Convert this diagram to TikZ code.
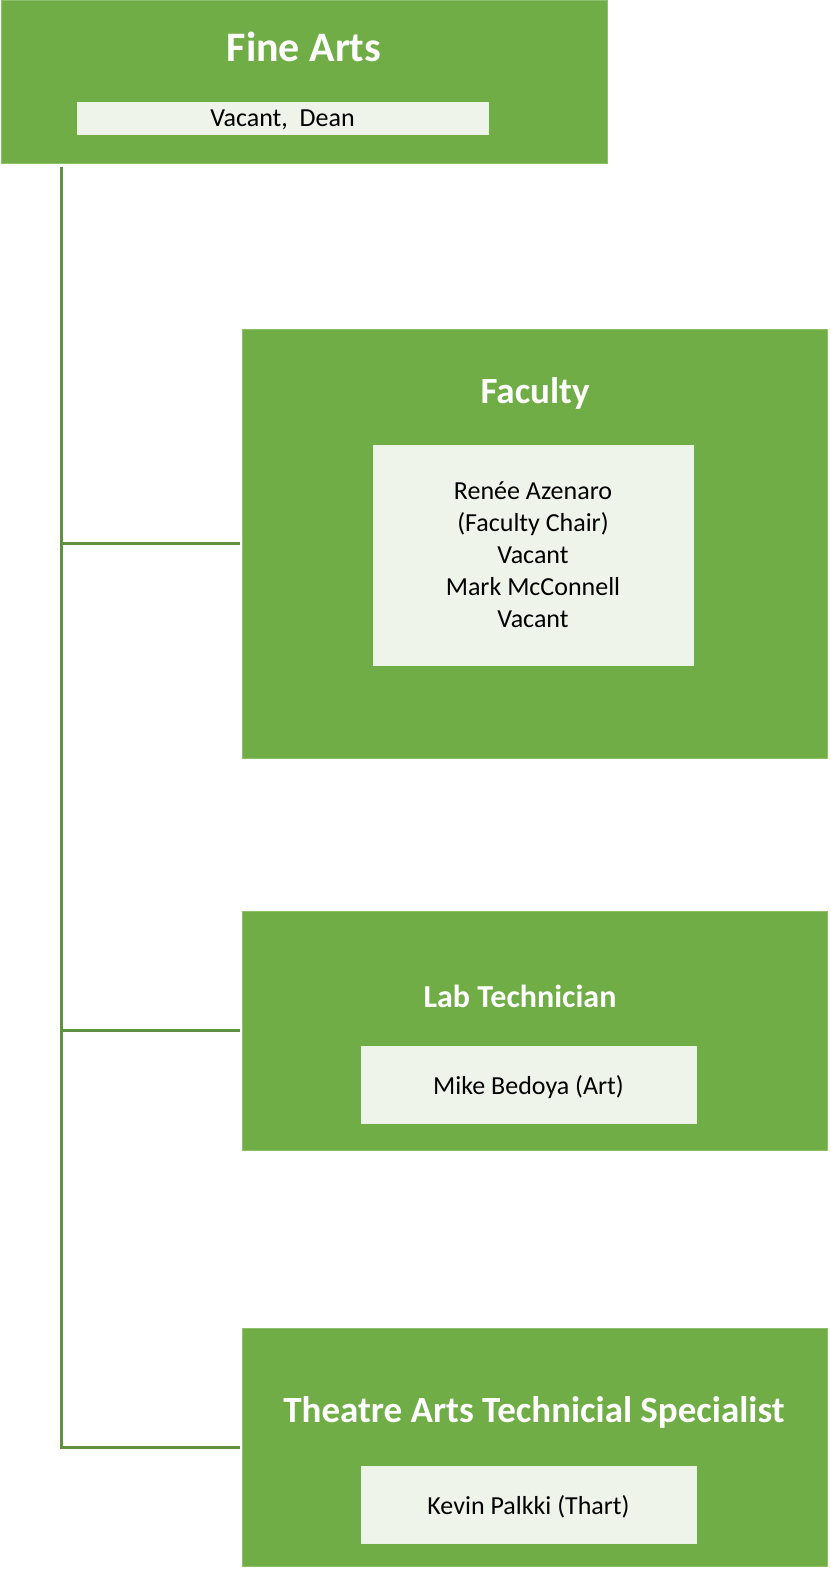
\documentclass[tikz,border=0pt]{standalone}
\usepackage{fontspec}
\setmainfont{Carlito}
\definecolor{boxgreen}{HTML}{70AD47}
\definecolor{innerfill}{HTML}{EFF4EA}
\definecolor{linegreen}{HTML}{5E9140}
\definecolor{edgegreen}{HTML}{8CC06A}
\tikzset{
  outerbox/.style={rectangle, fill=boxgreen, draw=edgegreen, line width=0.8pt, inner sep=0pt},
  innerbox/.style={rectangle, fill=innerfill, draw=white!85!boxgreen, line width=0.6pt, inner sep=0pt, align=center, text=black, text depth=0pt, font=\fontsize{26}{32}\selectfont},
  titletext/.style={text=white, inner sep=0pt, text depth=0pt, font=\bfseries\fontsize{#1}{#1}\selectfont},
  conn/.style={draw=linegreen, line width=3pt}
}
\begin{document}
\begin{tikzpicture}[x=1pt,y=-1pt]
\useasboundingbox (0,0) rectangle (830,1573);
% top box
\node[outerbox, minimum width=606pt, minimum height=163pt] (fa) at (304,81.5) {};
\node[titletext=42] (fat) at (304,47) {Fine Arts};
\node[innerbox, minimum width=411pt, minimum height=32pt] (fai) at (282.5,118) {Vacant,\ \ Dean};
% faculty
\node[outerbox, minimum width=585pt, minimum height=429pt] (fac) at (534.5,543.5) {};
\node[titletext=37] (fact) at (535,391) {Faculty};
\node[innerbox, minimum width=320pt, minimum height=220pt] (faci) at (533,555) {Renée Azenaro\\(Faculty Chair)\\Vacant\\Mark McConnell\\Vacant};
% lab technician
\node[outerbox, minimum width=585pt, minimum height=239pt] (lab) at (534.5,1030.5) {};
\node[titletext=32] (labt) at (520,996) {Lab Technician};
\node[innerbox, minimum width=335pt, minimum height=77pt] (labi) at (528.5,1084.5) {Mike Bedoya (Art)};
% theatre
\node[outerbox, minimum width=585pt, minimum height=238pt] (th) at (534.5,1447) {};
\node[titletext=37] (tht) at (534,1410) {Theatre Arts Technicial Specialist};
\node[innerbox, minimum width=335pt, minimum height=77pt] (thi) at (528.5,1504.5) {Kevin Palkki (Thart)};
% connectors
\coordinate (tr) at (61,167);
\draw[conn] (tr) |- ([xshift=-2pt]th.west);
\draw[conn] (tr |- fac.west) -- ([xshift=-2pt]fac.west);
\draw[conn] (tr |- lab.west) -- ([xshift=-2pt]lab.west);
\end{tikzpicture}
\end{document}
